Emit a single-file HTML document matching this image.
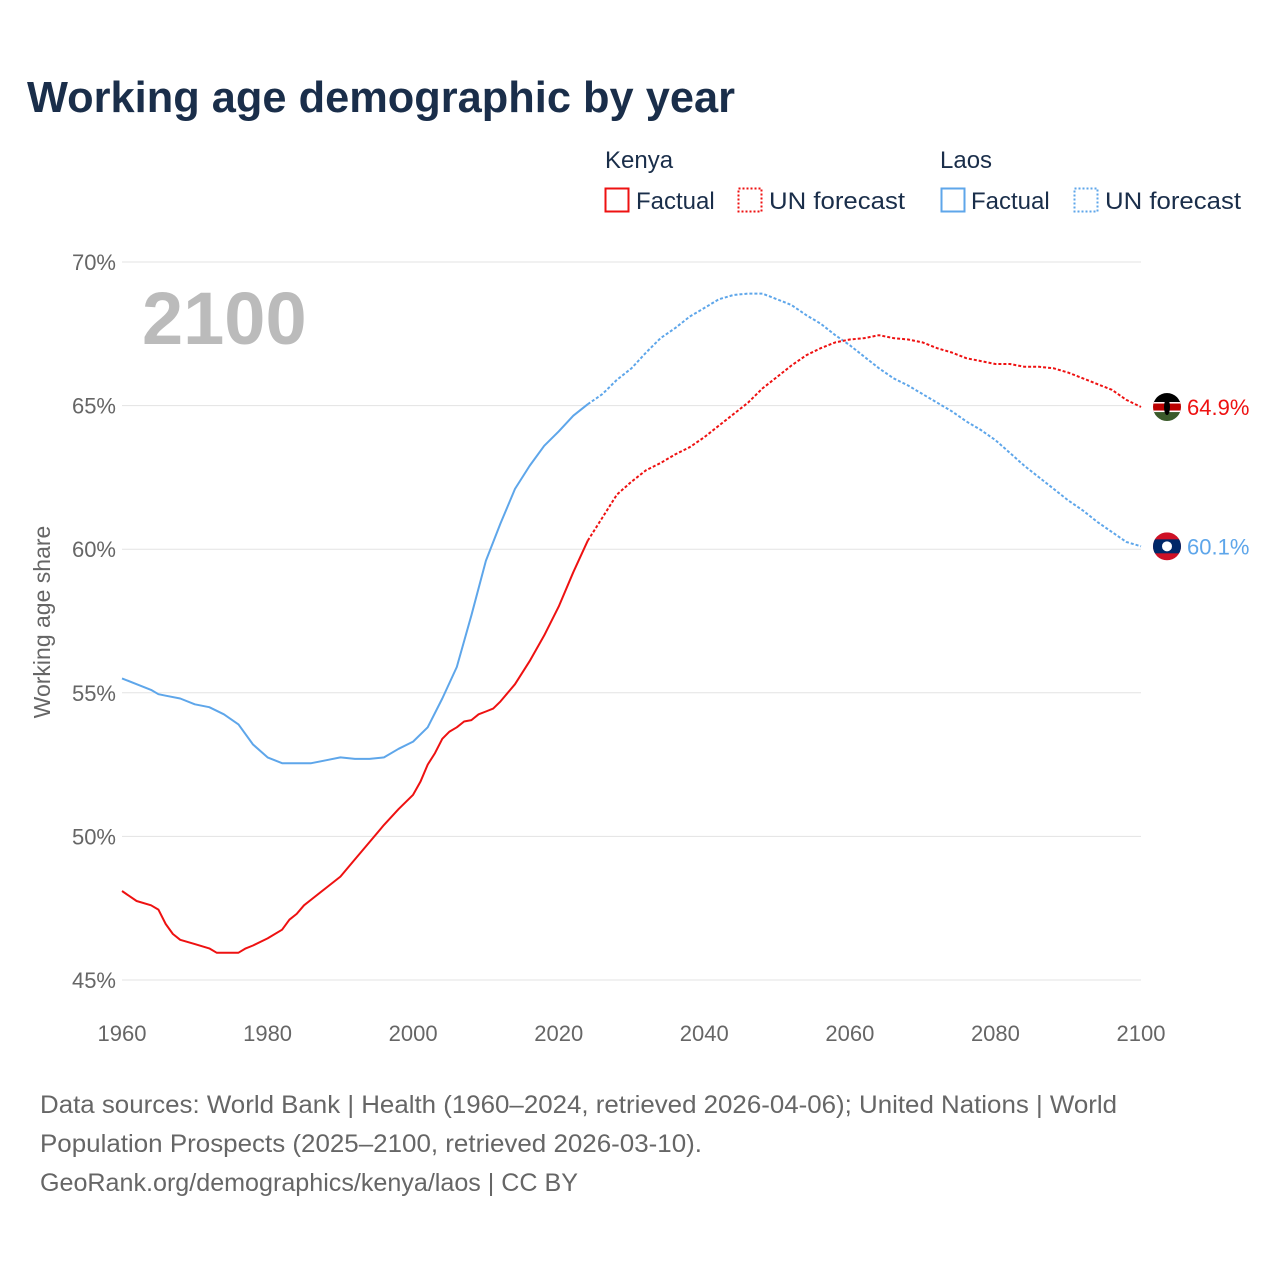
<!DOCTYPE html>
<html><head><meta charset="utf-8"><style>
body{margin:0;background:#fff;}
svg text{font-family:"Liberation Sans",sans-serif;}
</style></head><body>
<svg width="1280" height="1280" viewBox="0 0 1280 1280" xmlns="http://www.w3.org/2000/svg">
<rect width="1280" height="1280" fill="#fff"/>
<text x="27" y="112" font-size="44" font-weight="bold" fill="#1a2e4a" textLength="708" lengthAdjust="spacingAndGlyphs">Working age demographic by year</text>
<g font-size="24" fill="#1a2e4a">
<text x="605" y="168">Kenya</text>
<rect x="605.5" y="188.5" width="23" height="23" fill="none" stroke="#ee1111" stroke-width="2"/>
<text x="636" y="209">Factual</text>
<rect x="738.5" y="188.5" width="23" height="23" fill="none" stroke="#ee1111" stroke-width="2" stroke-dasharray="2 2"/>
<text x="769" y="209" textLength="136" lengthAdjust="spacingAndGlyphs">UN forecast</text>
<text x="940" y="168">Laos</text>
<rect x="941.5" y="188.5" width="23" height="23" fill="none" stroke="#5ea6ea" stroke-width="2"/>
<text x="971" y="209">Factual</text>
<rect x="1074.5" y="188.5" width="23" height="23" fill="none" stroke="#5ea6ea" stroke-width="2" stroke-dasharray="2 2"/>
<text x="1105" y="209" textLength="136" lengthAdjust="spacingAndGlyphs">UN forecast</text>
</g>
<g id="grid"></g>
<text x="142" y="344" font-size="74" font-weight="bold" fill="#bbbbbb">2100</text>
<text transform="translate(50,622) rotate(-90)" text-anchor="middle" font-size="23" fill="#666">Working age share</text>
<g id="series"></g>
<g font-size="25" fill="#666">
<text x="40" y="1113" textLength="1077" lengthAdjust="spacingAndGlyphs">Data sources: World Bank | Health (1960–2024, retrieved 2026-04-06); United Nations | World</text>
<text x="40" y="1152" textLength="662" lengthAdjust="spacingAndGlyphs">Population Prospects (2025–2100, retrieved 2026-03-10).</text>
<text x="40" y="1191" textLength="538" lengthAdjust="spacingAndGlyphs">GeoRank.org/demographics/kenya/laos | CC BY</text>
</g>
</svg>
<script>
const yTicks=[45,50,55,60,65,70];
const xTicks=[1960,1980,2000,2020,2040,2060,2080,2100];
const kenyaYears=[1960,1962,1964,1965,1966,1967,1968,1970,1972,1973,1974,1976,1977,1978,1980,1982,1983,1984,1985,1986,1988,1990,1992,1994,1996,1998,2000,2001,2002,2003,2004,2005,2006,2007,2008,2009,2010,2011,2012,2014,2016,2018,2020,2022,2024];
const kenyaValues=[48.1,47.75,47.6,47.45,46.95,46.6,46.4,46.25,46.1,45.95,45.95,45.95,46.1,46.2,46.45,46.75,47.1,47.3,47.6,47.8,48.2,48.6,49.2,49.8,50.4,50.95,51.45,51.9,52.5,52.9,53.4,53.65,53.8,54.0,54.05,54.25,54.35,54.45,54.7,55.3,56.1,57.0,58.0,59.2,60.3];
const kenyaFcYears=[2024,2026,2028,2030,2032,2034,2036,2038,2040,2042,2044,2046,2048,2050,2052,2054,2056,2058,2060,2062,2064,2066,2068,2070,2072,2074,2076,2078,2080,2082,2084,2086,2088,2090,2092,2094,2096,2098,2100];
const kenyaFcValues=[60.3,61.1,61.9,62.35,62.75,63.0,63.3,63.55,63.9,64.3,64.7,65.1,65.6,66.0,66.4,66.75,67.0,67.2,67.3,67.35,67.45,67.35,67.3,67.2,67.0,66.85,66.65,66.55,66.45,66.45,66.35,66.35,66.3,66.15,65.95,65.75,65.55,65.2,64.95];
const laosYears=[1960,1962,1964,1965,1966,1968,1970,1972,1974,1976,1978,1980,1982,1984,1986,1988,1990,1992,1994,1996,1998,2000,2002,2004,2006,2008,2010,2012,2014,2016,2018,2020,2022,2024];
const laosValues=[55.5,55.3,55.1,54.95,54.9,54.8,54.6,54.5,54.25,53.9,53.2,52.75,52.55,52.55,52.55,52.65,52.75,52.7,52.7,52.75,53.05,53.3,53.8,54.8,55.9,57.7,59.6,60.9,62.1,62.9,63.6,64.1,64.65,65.05];
const laosFcYears=[2024,2026,2028,2030,2032,2034,2036,2038,2040,2042,2044,2046,2048,2050,2052,2054,2056,2058,2060,2062,2064,2066,2068,2070,2072,2074,2076,2078,2080,2082,2084,2086,2088,2090,2092,2094,2096,2098,2100];
const laosFcValues=[65.05,65.4,65.9,66.3,66.85,67.35,67.7,68.1,68.4,68.7,68.85,68.9,68.9,68.7,68.5,68.15,67.85,67.45,67.1,66.7,66.3,65.95,65.7,65.4,65.1,64.8,64.45,64.15,63.8,63.35,62.9,62.5,62.1,61.7,61.35,60.95,60.6,60.25,60.1];
const endLabels=["64.9%","60.1%"];

const NS="http://www.w3.org/2000/svg";
const X=y=>122+(y-1960)*(1141-122)/140;
const Y=v=>980-(v-45)*(980-262)/25;
function mk(t,a,p){const e=document.createElementNS(NS,t);for(const k in a)e.setAttribute(k,a[k]);p.appendChild(e);return e;}
const grid=document.getElementById('grid');
yTicks.forEach(v=>{
  const l=mk('line',{x1:122,x2:1141,y1:Y(v),y2:Y(v),stroke:'#e3e3e3','stroke-width':1},grid);
  
  
  const t=mk('text',{x:116,y:Y(v)+8,'text-anchor':'end','font-size':22,fill:'#666'},grid);
  t.textContent=v+'%';
  
  
});
xTicks.forEach(v=>{
  const t=mk('text',{x:X(v),y:1041,'text-anchor':'middle','font-size':22,fill:'#666'},grid);
  t.textContent=v;
  
  
});
const s=document.getElementById('series');
function line(xs,vs,col,dash,name){
  const d=xs.map((x,i)=>(i?'L':'M')+X(x).toFixed(1)+' '+Y(vs[i]).toFixed(1)).join(' ');
  const p=mk('path',{d:d,fill:'none',stroke:col,'stroke-width':2,'stroke-linejoin':'round'},s);
  if(dash)p.setAttribute('stroke-dasharray','3 2');
  
  
}
line(laosYears,laosValues,'#5ea6ea',false,'laos-factual-line');
line(laosFcYears,laosFcValues,'#5ea6ea',true,'laos-forecast-line');
line(kenyaYears,kenyaValues,'#ee1111',false,'kenya-factual-line');
line(kenyaFcYears,kenyaFcValues,'#ee1111',true,'kenya-forecast-line');
const ky=Y(kenyaFcValues[kenyaFcValues.length-1]), ly=Y(laosFcValues[laosFcValues.length-1]);
const cx=1167;
const kg=mk('g',{},s);


mk('clipPath',{id:'kc'},kg).appendChild(document.createElementNS(NS,'circle')).setAttribute('r',14);
document.querySelector('#kc circle').setAttribute('cx',cx);document.querySelector('#kc circle').setAttribute('cy',ky);
const kf=mk('g',{'clip-path':'url(#kc)'},kg);
mk('rect',{x:cx-14,y:ky-14,width:28,height:9,fill:'#000'},kf);
mk('rect',{x:cx-14,y:ky-5,width:28,height:10,fill:'#b00'},kf);
mk('rect',{x:cx-14,y:ky+5,width:28,height:9,fill:'#3a5a2a'},kf);
mk('rect',{x:cx-14,y:ky-5,width:28,height:1.5,fill:'#fff'},kf);
mk('rect',{x:cx-14,y:ky+3.5,width:28,height:1.5,fill:'#fff'},kf);
mk('ellipse',{cx:cx,cy:ky,rx:3,ry:8,fill:'#000'},kf);
const lg=mk('g',{},s);


mk('clipPath',{id:'lc'},lg).appendChild(document.createElementNS(NS,'circle')).setAttribute('r',14);
document.querySelector('#lc circle').setAttribute('cx',cx);document.querySelector('#lc circle').setAttribute('cy',ly);
const lf=mk('g',{'clip-path':'url(#lc)'},lg);
mk('rect',{x:cx-14,y:ly-14,width:28,height:28,fill:'#ce1126'},lf);
mk('rect',{x:cx-14,y:ly-7,width:28,height:14,fill:'#002868'},lf);
mk('circle',{cx:cx,cy:ly,r:5,fill:'#fff'},lf);
const t1=mk('text',{x:1187,y:ky+8,'font-size':22,fill:'#ee1111'},s);
t1.textContent=endLabels[0];


const t2=mk('text',{x:1187,y:ly+8,'font-size':22,fill:'#5ea6ea'},s);
t2.textContent=endLabels[1];


</script>
</body></html>
